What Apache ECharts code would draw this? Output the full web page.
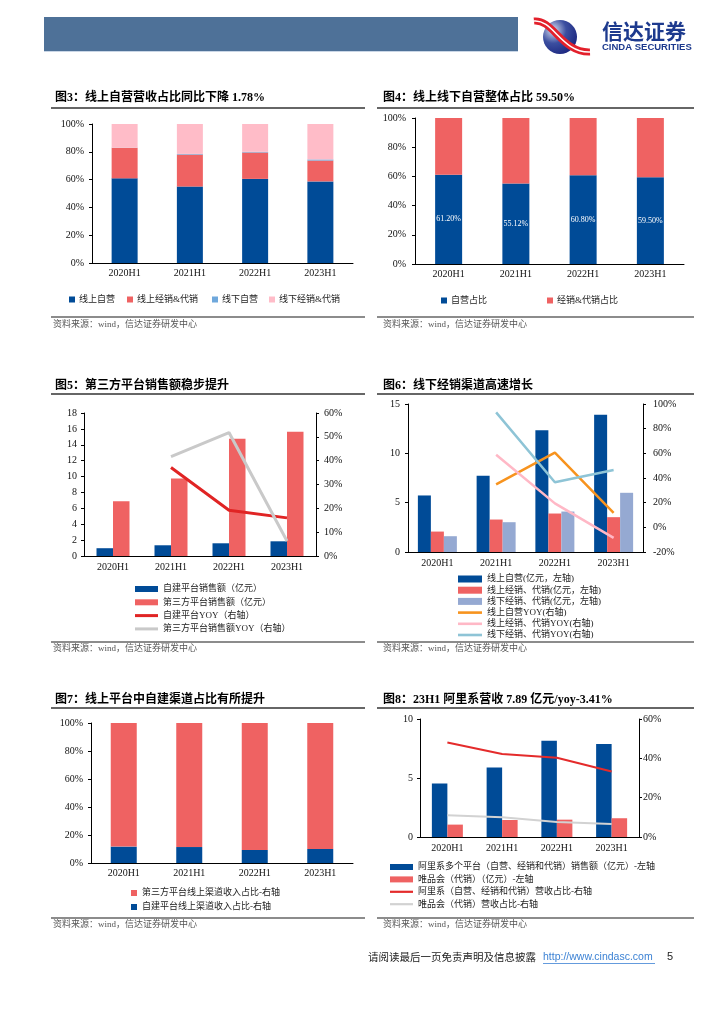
<!DOCTYPE html>
<html><head><meta charset="utf-8">
<script src="https://cdn.jsdelivr.net/npm/echarts/dist/echarts.min.js"></script>
<style>html,body{margin:0;padding:0;background:#fff}#c{width:724px;height:1024px}</style>
</head><body><div id="c"></div>
<script>
// ---------- data ----------
const cats = ['2020H1','2021H1','2022H1','2023H1'];
// Fig3 (%)
const f3OnlineSelf  = [60.9, 55.0, 60.5, 58.7];
const f3OnlineDist  = [22.0, 23.0, 19.0, 15.0];
const f3OfflineSelf = [0.1, 0.5, 0.5, 0.8];
const f3OfflineDist = [17.0, 21.5, 20.0, 25.5];
// Fig4 (%)
const f4Self = [61.20, 55.12, 60.80, 59.50];
const f4Dist = [38.80, 44.88, 39.20, 40.50];
// Fig5
const f5Self = [0.98, 1.35, 1.60, 1.85];
const f5Third = [6.88, 9.75, 14.77, 15.65];
const f5SelfYoy = [null, 37.1, 19.2, 16.0];
const f5ThirdYoy = [null, 41.7, 51.8, 6.3];
// Fig6
const f6OnlineSelf = [5.73, 7.74, 12.35, 13.91];
const f6OnlineDist = [2.07, 3.29, 3.90, 3.53];
const f6OfflineDist = [1.60, 3.02, 4.10, 6.00];
const f6OnlineSelfYoy = [null, 34.8, 60.6, 11.8];
const f6OnlineDistYoy = [null, 58.8, 19.4, -8.6];
const f6OfflineDistYoy = [null, 93.2, 36.5, 46.5];
// Fig7 (%)
const f7Self = [11.7, 11.4, 9.3, 10.0];
const f7Third = [88.3, 88.6, 90.7, 90.0];
// Fig8
const f8Ali = [4.53, 5.89, 8.16, 7.89];
const f8Vip = [1.05, 1.44, 1.47, 1.59];
const f8AliShare = [48.1, 42.2, 40.3, 33.3];
const f8VipShare = [11.0, 10.0, 7.6, 6.6];

// ---------- styles ----------
const SERIF = "'Liberation Serif','Noto Sans CJK SC',serif";
const CJK = "'Liberation Serif','Noto Sans CJK SC',sans-serif";
const BLUE = '#004B97', RED = '#EF6262', LBLUE = '#6FA8DC', PINK = '#FFBCC8';

function xAx(gi, margin){
  return {type:'category', gridIndex:gi, data:cats,
    axisLine:{onZero:false, lineStyle:{color:'#000', width:1}},
    axisTick:{show:false},
    axisLabel:{color:'#111', fontFamily:SERIF, fontSize:10, margin:margin},
    splitLine:{show:false}};
}
function yAx(gi, min, max, interval, pct, margin, pos){
  return {type:'value', gridIndex:gi, min:min, max:max, interval:interval, position:pos||'left',
    axisLine:{show:true, lineStyle:{color:'#000', width:1}},
    axisTick:{show:true, length:3, lineStyle:{color:'#000'}},
    splitLine:{show:false},
    axisLabel:{color:'#111', fontFamily:SERIF, fontSize:10, margin:margin, formatter: pct ? '{value}%' : '{value}'}};
}
const legText = {fontFamily:CJK, fontSize:9, color:'#222'};
function oneLeg(name, left, top){
  return {data:[{name:name, icon:'rect'}], left:left, top:top, padding:0, itemWidth:6, itemHeight:6, itemGap:0,
    textStyle:Object.assign({}, legText, {padding:[0,0,0,-1]}), selectedMode:false};
}
function vLeg(names, left, top, iw, ih, lh, gap){
  return {data:names, orient:'vertical', left:left, top:top, padding:0, itemWidth:iw, itemHeight:ih, itemGap:gap,
    symbolKeepAspect:true, textStyle:Object.assign({}, legText, {lineHeight:lh}), selectedMode:false};
}
function bar(name, data, xi, yi, color, extra){
  return Object.assign({type:'bar', name:name, data:data, xAxisIndex:xi, yAxisIndex:yi, itemStyle:{color:color}}, extra||{});
}
function line(name, data, xi, yi, color, w){
  return {type:'line', name:name, data:data, xAxisIndex:xi, yAxisIndex:yi, symbol:'none', showSymbol:false,
    lineStyle:{color:color, width:w}, itemStyle:{color:color}, connectNulls:false};
}
function li(name, path){ return {name:name, icon:path}; }
const L5 = 'path://M0,0H23V3H0Z', L6 = 'path://M0,0H24V2.6H0Z', L8 = 'path://M0,0H23V2.2H0Z';

// ---------- graphic (page furniture) ----------
const g = [];
function txt(t, x, y, font, fill, align){ g.push({type:'text', x:x, y:y, style:{text:t, font:font, fill:fill||'#000', align:align||'left', verticalAlign:'middle'}, silent:true}); }
function hline(x1, x2, y, color, w){ g.push({type:'line', shape:{x1:x1, y1:y, x2:x2, y2:y}, style:{stroke:color, lineWidth:w}, silent:true}); }
// header
g.push({type:'rect', shape:{x:44, y:17, width:474, height:34}, style:{fill:'#4E7198'}, silent:true});
hline(44, 518, 51.5, '#C9D6E6', 1);
// logo
g.push({type:'circle', shape:{cx:560, cy:37, r:17}, style:{fill:new echarts.graphic.RadialGradient(0.3,0.3,0.85,[{offset:0,color:'#D8DEF0'},{offset:0.45,color:'#3C4FA0'},{offset:1,color:'#16207A'}])}, silent:true});
g.push({type:'bezierCurve', shape:{x1:534, y1:21, cpx1:553, cpy1:19, cpx2:562, cpy2:53, x2:590, y2:52}, style:{stroke:'#E3202B', lineWidth:7, fill:null}, silent:true});
g.push({type:'bezierCurve', shape:{x1:534, y1:21, cpx1:553, cpy1:19, cpx2:562, cpy2:53, x2:590, y2:52}, style:{stroke:'#fff', lineWidth:1.5, fill:null}, silent:true});
txt('信达证券', 602, 31, 'bold 21px "Noto Sans CJK SC"', '#1D3A8E');
txt('CINDA SECURITIES', 602, 47.5, 'bold 9.5px "Liberation Sans"', '#1D3A8E');
// titles, underlines, source lines
const TF = 'bold 12px ' + SERIF;
const SF = '9px ' + CJK;
txt('图3：线上自营营收占比同比下降 1.78%', 55, 98, TF);
txt('图4：线上线下自营整体占比 59.50%', 383, 98, TF);
txt('图5：第三方平台销售额稳步提升', 55, 386, TF);
txt('图6：线下经销渠道高速增长', 383, 386, TF);
txt('图7：线上平台中自建渠道占比有所提升', 55, 700, TF);
txt('图8：23H1 阿里系营收 7.89 亿元/yoy-3.41%', 383, 700, TF);
[[108],[394],[708]].forEach(function(r){ hline(51, 365, r[0], '#333', 1.3); hline(377, 694, r[0], '#333', 1.3); });
[[317,325],[642,649],[918,925]].forEach(function(r){
  hline(51, 365, r[0], '#666', 1.5); hline(377, 694, r[0], '#666', 1.5);
  txt('资料来源：wind，信达证券研发中心', 53, r[1], SF, '#555');
  txt('资料来源：wind，信达证券研发中心', 383, r[1], SF, '#555');
});
// footer
txt('请阅读最后一页免责声明及信息披露', 368, 957, '10.5px "Noto Sans CJK SC"', '#222');
txt('http://www.cindasc.com', 543, 957, '10.5px "Liberation Sans"', '#3C82D4');
hline(543, 655, 963.5, '#3C82D4', 0.8);
txt('5', 667, 957, '11px "Liberation Sans"', '#222');

// ---------- option ----------
const option = {
  animation:false,
  backgroundColor:'#fff',
  graphic:g,
  grid:[
    {left:92, top:124, width:261, height:139},
    {left:415, top:118, width:269, height:146},
    {left:84, top:413, width:232, height:143},
    {left:408, top:404, width:235, height:148},
    {left:91, top:723, width:262, height:140},
    {left:420, top:719, width:219, height:118}
  ],
  xAxis:[xAx(0,5), xAx(1,5), xAx(2,6), xAx(3,6), xAx(4,5), xAx(5,6)],
  yAxis:[
    yAx(0, 0, 100, 20, true, 8),
    yAx(1, 0, 100, 20, true, 9),
    yAx(2, 0, 18, 2, false, 7),
    yAx(2, 0, 60, 10, true, 8, 'right'),
    yAx(3, 0, 15, 5, false, 8),
    yAx(3, -20, 100, 20, true, 10, 'right'),
    yAx(4, 0, 100, 20, true, 8),
    yAx(5, 0, 10, 5, false, 7),
    yAx(5, 0, 60, 20, true, 4, 'right')
  ],
  legend:[
    oneLeg('线上自营', 69, 295), oneLeg('线上经销&代销', 127, 295), oneLeg('线下自营', 212, 295), oneLeg('线下经销&代销', 269, 295),
    oneLeg('自营占比', 441, 296), oneLeg('经销&代销占比', 547, 296),
    vLeg([{name:'自建平台销售额（亿元）',icon:'rect'},{name:'第三方平台销售额（亿元）',icon:'rect'},li('自建平台YOY（右轴）',L5),li('第三方平台销售额YOY（右轴）',L5)], 135, 583.5, 23, 6, 11, 2.3),
    vLeg([{name:'线上自营(亿元，左轴)',icon:'rect'},{name:'线上经销、代销(亿元，左轴)',icon:'rect'},{name:'线下经销、代销(亿元，左轴)',icon:'rect'},li('线上自营YOY(右轴)',L6),li('线上经销、代销YOY(右轴)',L6),li('线下经销、代销YOY(右轴)',L6)], 458, 574, 24, 7, 10, 1.2),
    vLeg([{name:'第三方平台线上渠道收入占比-右轴',icon:'rect'},{name:'自建平台线上渠道收入占比-右轴',icon:'rect'}], 131, 887.5, 6, 6, 11, 3),
    vLeg([{name:'阿里系多个平台（自营、经销和代销）销售额（亿元）-左轴',icon:'rect'},{name:'唯品会（代销）（亿元）-左轴',icon:'rect'},li('阿里系（自营、经销和代销）营收占比-右轴',L8),li('唯品会（代销）营收占比-右轴',L8)], 390, 861.5, 23, 6, 11, 1.4)
  ],
  series:[
    // fig3
    bar('线上自营', f3OnlineSelf, 0, 0, BLUE, {stack:'s3', barWidth:26}),
    bar('线上经销&代销', f3OnlineDist, 0, 0, RED, {stack:'s3', barWidth:26}),
    bar('线下自营', f3OfflineSelf, 0, 0, LBLUE, {stack:'s3', barWidth:26}),
    bar('线下经销&代销', f3OfflineDist, 0, 0, PINK, {stack:'s3', barWidth:26}),
    // fig4
    bar('自营占比', f4Self, 1, 1, BLUE, {stack:'s4', barWidth:27,
      label:{show:true, position:'inside', color:'#fff', fontFamily:SERIF, fontSize:8, formatter:function(p){return p.value.toFixed(2)+'%';}}}),
    bar('经销&代销占比', f4Dist, 1, 1, RED, {stack:'s4', barWidth:27}),
    // fig5
    bar('自建平台销售额（亿元）', f5Self, 2, 2, BLUE, {barWidth:16.5, barGap:'0%'}),
    bar('第三方平台销售额（亿元）', f5Third, 2, 2, RED, {barWidth:16.5, barGap:'0%'}),
    line('自建平台YOY（右轴）', f5SelfYoy, 2, 3, '#E02424', 3),
    line('第三方平台销售额YOY（右轴）', f5ThirdYoy, 2, 3, '#C9C9C9', 3),
    // fig6
    bar('线上自营(亿元，左轴)', f6OnlineSelf, 3, 4, BLUE, {barWidth:13, barGap:'0%'}),
    bar('线上经销、代销(亿元，左轴)', f6OnlineDist, 3, 4, RED, {barWidth:13, barGap:'0%'}),
    bar('线下经销、代销(亿元，左轴)', f6OfflineDist, 3, 4, '#95A9D2', {barWidth:13, barGap:'0%'}),
    line('线上自营YOY(右轴)', f6OnlineSelfYoy, 3, 5, '#F7931E', 2.5),
    line('线上经销、代销YOY(右轴)', f6OnlineDistYoy, 3, 5, '#FFB8C6', 2.5),
    line('线下经销、代销YOY(右轴)', f6OfflineDistYoy, 3, 5, '#8EC4D6', 2.5),
    // fig7
    bar('自建平台线上渠道收入占比-右轴', f7Self, 4, 6, BLUE, {stack:'s7', barWidth:26}),
    bar('第三方平台线上渠道收入占比-右轴', f7Third, 4, 6, RED, {stack:'s7', barWidth:26}),
    // fig8
    bar('阿里系多个平台（自营、经销和代销）销售额（亿元）-左轴', f8Ali, 5, 7, BLUE, {barWidth:15.5, barGap:'0%'}),
    bar('唯品会（代销）（亿元）-左轴', f8Vip, 5, 7, RED, {barWidth:15.5, barGap:'0%'}),
    line('阿里系（自营、经销和代销）营收占比-右轴', f8AliShare, 5, 8, '#E42B2B', 2),
    line('唯品会（代销）营收占比-右轴', f8VipShare, 5, 8, '#D2D2D2', 2)
  ]
};
const chart = echarts.init(document.getElementById('c'), null, {renderer:'canvas', width:724, height:1024});
chart.setOption(option);
</script></body></html>
